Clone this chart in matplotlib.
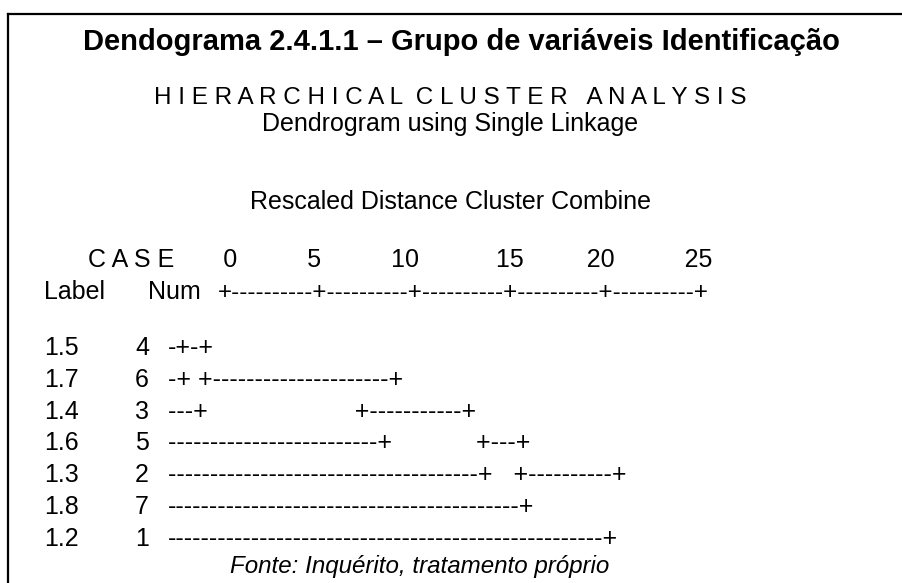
import matplotlib
matplotlib.use('Agg')
import matplotlib.pyplot as plt
from matplotlib.lines import Line2D

# Texts of the SPSS output
title = 'Dendograma 2.4.1.1 – Grupo de variáveis Identificação'
heading = ['H I E R A R C H I C A L  C L U S T E R   A N A L Y S I S',
           'Dendrogram using Single Linkage']
scale_title = 'Rescaled Distance Cluster Combine'
case_line = 'C A S E       0          5          10           15         20          25'
axis_line = '+' + '+'.join(['-'*10]*5) + '+'

# Cases (in dendrogram order)
labels = ['1.5', '1.7', '1.4', '1.6', '1.3', '1.8', '1.2']
nums = [4, 6, 3, 5, 2, 7, 1]
tree = ['-+-+',
        '-+ +---------------------+',
        '---+                     +-----------+',
        '-------------------------+            +---+',
        '-------------------------------------+   +----------+',
        '------------------------------------------+',
        '----------------------------------------------------+']
source = 'Fonte: Inquérito, tratamento próprio'

W, H = 902, 583
fig = plt.figure(figsize=(W/100, H/100), dpi=100)

def put(x, y, s, **kw):
    kw.setdefault('fontsize', 18)
    kw.setdefault('va', 'baseline')
    fig.text(x/W, 1 - y/H, s, family='Liberation Sans', **kw)

# frame (top and left only)
fig.add_artist(Line2D([8/W, 1], [1-14/H, 1-14/H], color='black', lw=1.6))
fig.add_artist(Line2D([8/W, 8/W], [1-14/H, 0], color='black', lw=1.6))

put(461, 50, title, ha='center', weight='bold', fontsize=21)
put(450, 104, heading[0], ha='center', fontsize=17.5)
put(450, 131, heading[1], ha='center')
put(450, 209, scale_title, ha='center')

put(88, 267, case_line)
put(44, 299, 'Label')
put(148, 299, 'Num')
put(218, 299, axis_line, fontsize=17.5)

for i in range(len(labels)):
    y = 355 + i*31.8
    put(44, y, labels[i])
    put(135, y, str(nums[i]))
    put(168, y, tree[i])

put(420, 573, source, ha='center', style='italic', fontsize=17.4)

fig.savefig('out.png', dpi=100)
